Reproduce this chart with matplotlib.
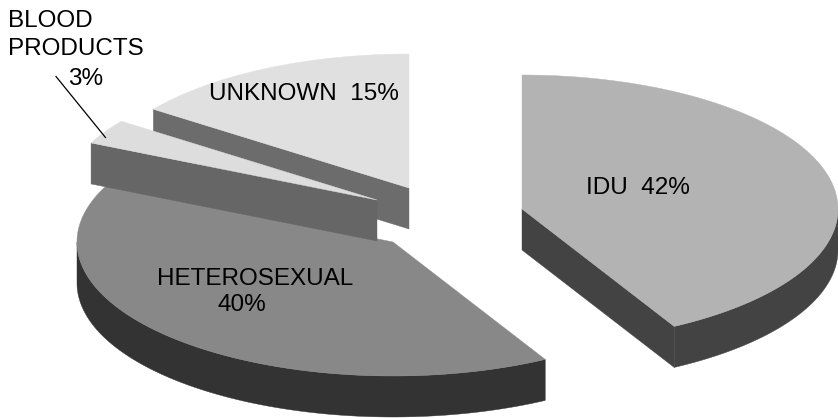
import numpy as np
import matplotlib
matplotlib.use("Agg")
import matplotlib.pyplot as plt
from matplotlib.patches import Polygon

# Share of cases by transmission route, clockwise from twelve o'clock
categories = ["IDU", "HETEROSEXUAL", "BLOOD PRODUCTS", "UNKNOWN"]
shares = [42, 40, 3, 15]

# Exploded position of each slice's apex, in figure pixels
apex_x = [522, 393, 377, 409]
apex_y = [209, 242, 200, 188]

top_colors = ["#b3b3b3", "#888888", "#dddddd", "#e0e0e0"]
side_colors = ["#434343", "#333333", "#666666", "#6c6c6c"]

RX, RY, DEPTH = 316, 134, 41
W, H = 838, 418

plt.rcParams["font.family"] = ["Liberation Sans", "DejaVu Sans"]
fig = plt.figure(figsize=(W / 100, H / 100), dpi=100)
ax = fig.add_axes([0, 0, 1, 1])
ax.set_xlim(0, W)
ax.set_ylim(H, 0)
ax.axis("off")


def rim(cx, cy, angles):
    """Points on the elliptical rim; angles in degrees clockwise from the top."""
    t = np.radians(angles)
    return np.column_stack([cx + RX * np.sin(t), cy - RY * np.cos(t)])


def draw_slice(cx, cy, start, end, top, side, z):
    angles = np.linspace(start, end, 200)
    apex = np.array([[cx, cy]])
    drop = np.array([0, DEPTH])

    def extrude(edge):
        return np.vstack([edge, (edge + drop)[::-1]])

    # Cut faces that turn towards the viewer
    if np.sin(np.radians(start)) < 0:
        edge = np.vstack([apex, rim(cx, cy, [start])])
        ax.add_patch(Polygon(extrude(edge), fc=side, ec=side, lw=0.3, zorder=z))
    if np.sin(np.radians(end)) > 0:
        edge = np.vstack([apex, rim(cx, cy, [end])])
        ax.add_patch(Polygon(extrude(edge), fc=side, ec=side, lw=0.3, zorder=z))

    # Outer wall on the near half of the ellipse
    near = angles[(angles >= 90) & (angles <= 270)]
    if near.size:
        ax.add_patch(Polygon(extrude(rim(cx, cy, near)), fc=side, ec=side, lw=0.3, zorder=z))

    ax.add_patch(Polygon(np.vstack([apex, rim(cx, cy, angles)]), fc=top, ec=top, lw=0.3, zorder=z + 0.5))


edges = np.cumsum([0] + shares) / sum(shares) * 360
for i, z in zip(range(4), [4, 2, 3, 1]):
    draw_slice(apex_x[i], apex_y[i], edges[i], edges[i + 1], top_colors[i], side_colors[i], z)

FS = 17.5
label = dict(fontsize=FS, color="black", va="center", zorder=10)
ax.text(638, 188, f"{categories[0]}  {shares[0]}%", ha="center", **label)
ax.text(255.5, 279, categories[1], ha="center", **label)
ax.text(242, 305, f"{shares[1]}%", ha="center", **label)
blood_first, blood_second = categories[2].split()
ax.text(8, 21, blood_first, ha="left", **label)
ax.text(8, 49, blood_second, ha="left", **label)
ax.text(85.5, 79, f"{shares[2]}%", ha="center", **label)
ax.text(304, 94, f"{categories[3]}  {shares[3]}%", ha="center", **label)

# Leader from the small slice to its label
ax.plot([56, 105.5], [76.5, 137.5], color="black", lw=0.9, zorder=9)

fig.savefig("out.png", dpi=100, facecolor="white")
